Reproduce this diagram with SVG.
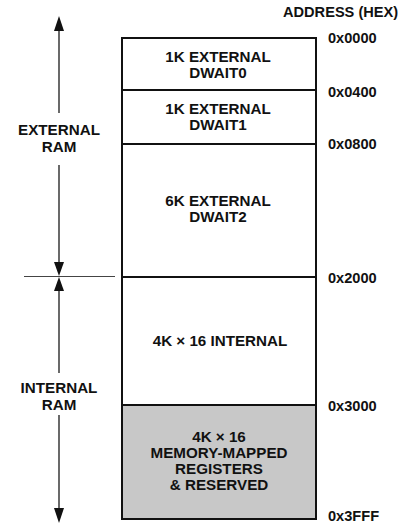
<svg xmlns="http://www.w3.org/2000/svg" width="411" height="525" viewBox="0 0 411 525">
<style>
text{font-family:"Liberation Sans",Arial,sans-serif;font-weight:bold;fill:#111;}
.n{font-size:15.2px;text-anchor:middle;}
.a{font-size:14.6px;}
.box{stroke:#111;stroke-width:2;}
.dim{stroke:#444;stroke-width:1.6;fill:none;}
.head{fill:#111;}
</style>
<rect width="411" height="525" fill="#fff"/>
<g id="dwait0">
<rect x="122" y="38" width="194" height="52" fill="#fff" class="box"/>
<text class="n" x="218" y="62">1K EXTERNAL</text>
<text class="n" x="218" y="78">DWAIT0</text>
</g>
<g id="dwait1">
<rect x="122" y="90" width="194" height="54" fill="#fff" class="box"/>
<text class="n" x="218" y="114">1K EXTERNAL</text>
<text class="n" x="218" y="130">DWAIT1</text>
</g>
<g id="dwait2">
<rect x="122" y="144" width="194" height="133" fill="#fff" class="box"/>
<text class="n" x="218" y="206">6K EXTERNAL</text>
<text class="n" x="218" y="222">DWAIT2</text>
</g>
<g id="internal">
<rect x="122" y="277" width="194" height="128" fill="#fff" class="box"/>
<text class="n" x="220" y="346">4K × 16 INTERNAL</text>
</g>
<g id="mmr">
<rect x="122" y="405" width="194" height="114" fill="#c8c8c8" class="box"/>
<text class="n" x="219" y="442">4K × 16</text>
<text class="n" x="219" y="458">MEMORY-MAPPED</text>
<text class="n" x="219" y="474">REGISTERS</text>
<text class="n" x="219" y="490">&amp; RESERVED</text>
</g>
<g id="addresses">
<text class="a" x="283" y="17">ADDRESS (HEX)</text>
<text class="a" x="328" y="43">0x0000</text>
<text class="a" x="328" y="97">0x0400</text>
<text class="a" x="328" y="149">0x0800</text>
<text class="a" x="328" y="283">0x2000</text>
<text class="a" x="328" y="411">0x3000</text>
<text class="a" x="328" y="521">0x3FFF</text>
</g>
<g id="labels">
<text class="n" x="59" y="135">EXTERNAL</text>
<text class="n" x="59" y="152">RAM</text>
<text class="n" x="59" y="393">INTERNAL</text>
<text class="n" x="59" y="410">RAM</text>
</g>
<g id="connectors">
<line class="dim" x1="24" y1="276.5" x2="115" y2="276.5" style="stroke-width:1"/>
<line class="dim" x1="59" y1="113" x2="59" y2="30"/>
<polygon class="head" points="59,16 54,31 64,31"/>
<line class="dim" x1="59" y1="165" x2="59" y2="263"/>
<polygon class="head" points="59,276 54,262 64,262"/>
<line class="dim" x1="59" y1="373" x2="59" y2="291"/>
<polygon class="head" points="59,277 54,291 64,291"/>
<line class="dim" x1="59" y1="415" x2="59" y2="509"/>
<polygon class="head" points="59,523 54,508 64,508"/>
</g>
</svg>
